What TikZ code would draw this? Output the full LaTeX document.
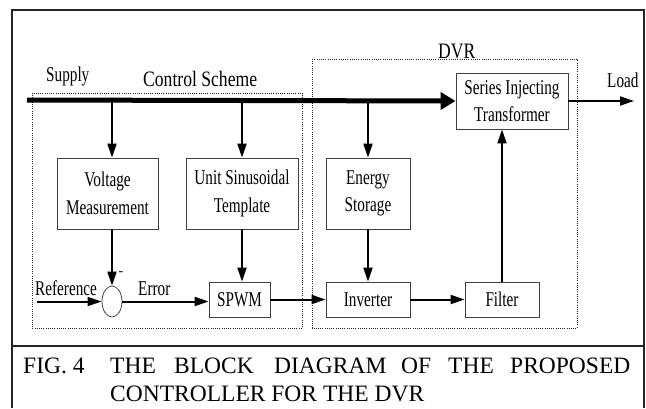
\documentclass[tikz,border=0pt]{standalone}
\usepackage{fontspec}
\setmainfont{Liberation Serif}
\newfontfamily\cfont[FakeStretch=0.725]{Liberation Serif}
\newfontfamily\dfont[FakeStretch=0.8]{Liberation Serif}
\usetikzlibrary{arrows.meta,shapes.geometric}
\begin{document}
\begin{tikzpicture}[x=1pt,y=-1pt,
  blk/.style={draw=black!75, line width=0.8pt, inner sep=0pt, align=center,
    font=\cfont\fontsize{21}{27.5}\selectfont},
  arr/.style={line width=2pt, -{Triangle[length=14pt,width=9pt]}},
  busarr/.style={line width=5pt, -{Triangle[length=15pt,width=17pt]}},
  lbl/.style={inner sep=0pt, anchor=base west, font=\cfont\fontsize{21}{24}\selectfont},
  biglbl/.style={inner sep=0pt, anchor=base west, font=\dfont\fontsize{22}{24}\selectfont},
  captxt/.style={inner sep=0pt, anchor=base west, font=\fontsize{23.5}{28}\selectfont},
  dotbox/.style={draw=black!85, line width=0.9pt, dash pattern=on 0.9pt off 1.3pt},
  framestyle/.style={draw=black!85, line width=1.5pt}]
\useasboundingbox (0,0) rectangle (646,408);
% frame
\draw[framestyle] (12,408) -- (12,10) -- (644,10) -- (644,408);
\draw[framestyle] (12,346) -- (644,346);
% dotted group boxes
\draw[dotbox] (32,93) rectangle (302,328);
\draw[dotbox] (312,59) rectangle (577,328);
% blocks
\node[blk, minimum width=101pt, minimum height=71pt] (vm) at (107.5,193.5) {Voltage\\Measurement};
\node[blk, minimum width=112pt, minimum height=71pt] (ust) at (242,193.5) {Unit Sinusoidal\\Template};
\node[blk, minimum width=84pt, minimum height=71pt] (es) at (368,193.5) {Energy\\Storage};
\node[blk, minimum width=112pt, minimum height=56pt] (sit) at (512,101) {Series Injecting\\Transformer};
\node[blk, ellipse, minimum width=20pt, minimum height=31pt] (sum) at (112,301.5) {};
\node[blk, minimum width=61pt, minimum height=35pt] (spwm) at (239.5,299.5) {SPWM};
\node[blk, minimum width=84pt, minimum height=35pt] (inv) at (368,299.5) {Inverter};
\node[blk, minimum width=74pt, minimum height=35pt] (filt) at (502,299.5) {Filter};
% coordinates
\coordinate (busstart) at (27,100);
\coordinate (tap1) at (112,100);
\coordinate (tap2) at (242,100);
\coordinate (tap3) at (368,100);
\coordinate (refstart) at (37,301.5);
\coordinate (loadend) at (634,101);
% labels
\node[lbl] (supply) at (46,81) {Supply};
\node[biglbl] (cs) at (143,86) {Control Scheme};
\node[biglbl] (dvr) at (438,58) {DVR};
\node[lbl] (load) at (607,87) {Load};
\node[lbl] (ref) at (35,295) {Reference};
\node[lbl] (err) at (138,295) {Error};
\node[inner sep=0pt, font=\fontsize{14}{14}\selectfont] (minus) at (121,274) {-};
% connectors
\draw[busarr] (busstart) -- (sit.west);
\draw[arr] (tap1) -- (tap1 |- vm.north);
\draw[arr] (tap2) -- (ust.north);
\draw[arr] (tap3) -- (es.north);
\draw[arr] (vm.south -| sum.north) -- (sum.north);
\draw[arr] (refstart) -- (sum.west);
\draw[arr] (sum.east) -- (sum.east -| spwm.west);
\draw[arr] (ust.south) -- (ust.south |- spwm.north);
\draw[arr] (spwm.east) -- (inv.west);
\draw[arr] (es.south) -- (inv.north);
\draw[arr] (inv.east) -- (filt.west);
\draw[arr] (filt.north) -- (filt.north |- sit.south);
\draw[arr] (sit.east) -- (loadend);
% caption
\node[captxt] (c1) at (23,373) {FIG. 4};
\node[captxt] (c2) at (110,373) {THE};
\node[captxt] (c3) at (174,373) {BLOCK};
\node[captxt] (c4) at (274,373) {DIAGRAM};
\node[captxt] (c5) at (401,373) {OF};
\node[captxt] (c6) at (448,373) {THE};
\node[captxt] (c7) at (510,373) {PROPOSED};
\node[captxt] (c8) at (110,401) {CONTROLLER FOR THE DVR};
\end{tikzpicture}
\end{document}
